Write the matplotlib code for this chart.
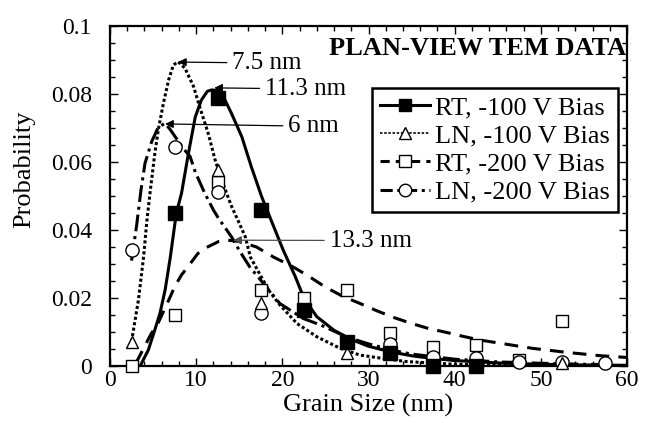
import numpy as np
import matplotlib
matplotlib.use('Agg')
import matplotlib.pyplot as plt
from matplotlib.lines import Line2D
from matplotlib.ticker import MultipleLocator

plt.rcParams['font.family'] = ['Liberation Serif', 'DejaVu Serif']

# measured histogram points (grain size bins)
grain = [2.5, 7.5, 12.5, 17.5, 22.5, 27.5, 32.5, 37.5, 42.5, 47.5, 52.5, 57.5]
nan = np.nan
rt100_pts = [nan, 0.045, 0.0788, 0.046, 0.0165, 0.0072, 0.0037, 0.0, 0.0, nan, nan, nan]
ln100_pts = [0.0072, nan, 0.0576, 0.0184, nan, 0.0037, nan, nan, nan, nan, 0.0008, nan]
rt200_pts = [0.0, 0.015, 0.054, 0.0224, 0.0199, 0.0224, 0.0097, 0.0057, 0.0062, 0.0018, 0.0133, nan]
ln200_pts = [0.034, 0.0645, 0.0513, 0.0155, nan, nan, 0.0065, 0.0027, 0.0023, 0.0013, 0.0013, 0.0008]

# fitted distributions
rt100_x = [3.5, 4.45, 5.2, 5.8, 6.4, 7.0, 7.7, 8.3, 9.1, 9.9, 10.6, 11.3, 11.8, 12.5, 13.1,
           14.1, 15.3, 16.4, 17.6, 18.6, 20.1, 21.5, 22.5, 24, 26, 28, 30, 32.5, 35, 37.5,
           40, 45, 50, 55, 60]
rt100_y = [0.0, 0.0047, 0.0106, 0.0155, 0.0224, 0.032, 0.045, 0.0508, 0.0625, 0.0733, 0.0782,
           0.0808, 0.0812, 0.081, 0.0795, 0.0743, 0.0674, 0.0586, 0.0498, 0.0435, 0.0341,
           0.0263, 0.02, 0.0145, 0.0105, 0.0078, 0.0058, 0.0042, 0.003, 0.0022, 0.0016,
           0.0009, 0.0005, 0.0003, 0.0002]

ln100_x = [2.5, 3.3, 3.9, 4.25, 4.64, 5.2, 5.6, 6.2, 6.8, 7.35, 7.9, 8.7, 9.7, 10.4, 11.4,
           12.2, 13.1, 14.1, 15.0, 15.7, 16.3, 17.6, 18.5, 19.7, 21.7, 24, 26.7, 29, 31.7,
           34.4, 40, 50, 60]
ln100_y = [0.0072, 0.0194, 0.0321, 0.042, 0.0508, 0.0625, 0.0694, 0.0773, 0.0841, 0.0885,
           0.0895, 0.0876, 0.0822, 0.0763, 0.0684, 0.0606, 0.0537, 0.047, 0.042, 0.038, 0.032,
           0.026, 0.022, 0.018, 0.0125, 0.0086, 0.0052, 0.0032, 0.0022, 0.0013, 0.0005,
           0.0001, 0.0]

rt200_x = [3.0, 3.7, 4.8, 5.4, 7.0, 7.5, 8.3, 8.9, 10.2, 11.0, 12.6, 13.7, 15, 17, 19, 21,
           23, 25, 27, 29, 31, 33, 35, 37, 39, 41, 43, 45, 47, 49, 51, 53, 55, 57, 60]
rt200_y = [0.0008, 0.0042, 0.0096, 0.0116, 0.0204, 0.0233, 0.0268, 0.0287, 0.0331, 0.0346,
           0.0366, 0.037, 0.0366, 0.035, 0.032, 0.0295, 0.0265, 0.0232, 0.0205, 0.0184,
           0.0162, 0.0142, 0.0125, 0.011, 0.0099, 0.0087, 0.0076, 0.0068, 0.006, 0.0052,
           0.0046, 0.004, 0.0035, 0.003, 0.0025]

ln200_x = [2.5, 3.1, 3.6, 4.06, 4.84, 5.6, 6.4, 7.0, 8.5, 9.3, 9.9, 11.0, 12.0, 12.6, 14.1,
           15.1, 16.2, 17.8, 19.7, 22.4, 24.5, 27.5, 30, 33, 35, 40, 45, 50, 55, 58]
ln200_y = [0.031, 0.0415, 0.0518, 0.0596, 0.066, 0.0702, 0.0714, 0.0695, 0.064, 0.0616,
           0.057, 0.0508, 0.0459, 0.0434, 0.038, 0.0336, 0.0292, 0.0243, 0.0184, 0.014,
           0.012, 0.0085, 0.0065, 0.0045, 0.0035, 0.002, 0.0012, 0.0008, 0.0005, 0.0004]

labels = ['RT, -100 V Bias', 'LN, -100 V Bias', 'RT, -200 V Bias', 'LN, -200 V Bias']
peaks = ['7.5 nm', '11.3 nm', '6 nm', '13.3 nm']

fig = plt.figure(figsize=(6.52, 4.23), dpi=100)
ax = fig.add_axes([0.1687, 0.1348, 0.7930, 0.8037])

lw = 2.2
ls_dot = (0, (1.0, 0.8))
ls_dash = (0, (4.5, 3.0))
ls_dd = (0, (5.5, 1.6, 1.0, 1.6))

ax.plot(rt100_x, rt100_y, color='black', lw=lw, ls='-')
ax.plot(ln100_x, ln100_y, color='black', lw=lw, ls=ls_dot)
ax.plot(rt200_x, rt200_y, color='black', lw=lw, ls=ls_dash)
ax.plot(ln200_x, ln200_y, color='black', lw=lw, ls=ls_dd)

mk = dict(ls='none', mec='black', mew=1.0, clip_on=False, zorder=4)
ax.plot(grain, rt200_pts, marker='s', ms=9, mfc='white', **mk)
ax.plot(grain, ln200_pts, marker='o', ms=9.5, mfc='white', **mk)
ax.plot(grain, ln100_pts, marker='^', ms=9, mfc='white', **mk)
ax.plot(grain, rt100_pts, marker='s', ms=9.5, mfc='black', **mk)

ax.set_xlim(0, 60)
ax.set_ylim(0, 0.1)
ax.xaxis.set_major_locator(MultipleLocator(10))
ax.xaxis.set_minor_locator(MultipleLocator(2))
ax.yaxis.set_minor_locator(MultipleLocator(0.005))
ax.set_yticks([0, 0.02, 0.04, 0.06, 0.08, 0.1])
ax.set_yticklabels(['0', '0.02', '0.04', '0.06', '0.08', '0.1'])
ax.tick_params(which='both', direction='in', top=True, right=True, width=1, labelsize=17)
ax.tick_params(which='major', length=6)
ax.tick_params(which='minor', length=3.5)
ax.tick_params(axis='x', pad=3)
ax.tick_params(axis='y', pad=13)
for s in ax.spines.values():
    s.set_linewidth(1.6)

ax.set_xlabel('Grain Size (nm)', fontsize=19, labelpad=2)
ax.set_ylabel('Probability', fontsize=19)
ax.yaxis.set_label_coords(-0.145, 0.58)

ax.text(0.998, 0.935, 'PLAN-VIEW TEM DATA', transform=ax.transAxes, ha='right',
        va='center', fontsize=19, fontweight='bold')

# peak annotations
arrow = dict(arrowstyle='-|>', color='black', lw=0.9, shrinkA=2, shrinkB=0,
             mutation_scale=12)
ax.annotate(peaks[0], xy=(7.9, 0.0894), xytext=(14.2, 0.0891), fontsize=18,
            va='center', ha='left', arrowprops=arrow)
ax.annotate(peaks[1], xy=(12.1, 0.0818), xytext=(18.0, 0.0815), fontsize=18,
            va='center', ha='left', arrowprops=arrow)
ax.annotate(peaks[2], xy=(6.4, 0.0712), xytext=(20.7, 0.0705), fontsize=18,
            va='center', ha='left', arrowprops=arrow)
ax.annotate(peaks[3], xy=(14.3, 0.037), xytext=(25.5, 0.0369), fontsize=18,
            va='center', ha='left',
            arrowprops=dict(arrowstyle='-|>', color='0.3', lw=0.9, shrinkA=2,
                            shrinkB=0, mutation_scale=12))

handles = [
    Line2D([], [], color='black', lw=lw, ls='-', marker='s', ms=9, mfc='black', mec='black'),
    Line2D([], [], color='black', lw=1.2, ls=(0, (1.5, 1.0)), marker='^', ms=9,
           mfc='white', mec='black'),
    Line2D([], [], color='black', lw=lw, ls=(0, (3, 2)), marker='s', ms=9,
           mfc='white', mec='black'),
    Line2D([], [], color='black', lw=lw, ls=(0, (4, 1.5, 1, 1.5)), marker='o', ms=9,
           mfc='white', mec='black'),
]
leg = ax.legend(handles, labels, loc='upper right', bbox_to_anchor=(0.983, 0.818),
                fontsize=19, numpoints=1, handlelength=1.9, handletextpad=0.2,
                labelspacing=0.18, borderpad=0.3, borderaxespad=0, fancybox=False,
                framealpha=1)
leg.get_frame().set_edgecolor('black')
leg.get_frame().set_linewidth(1.8)

fig.savefig('out.png', dpi=100)
